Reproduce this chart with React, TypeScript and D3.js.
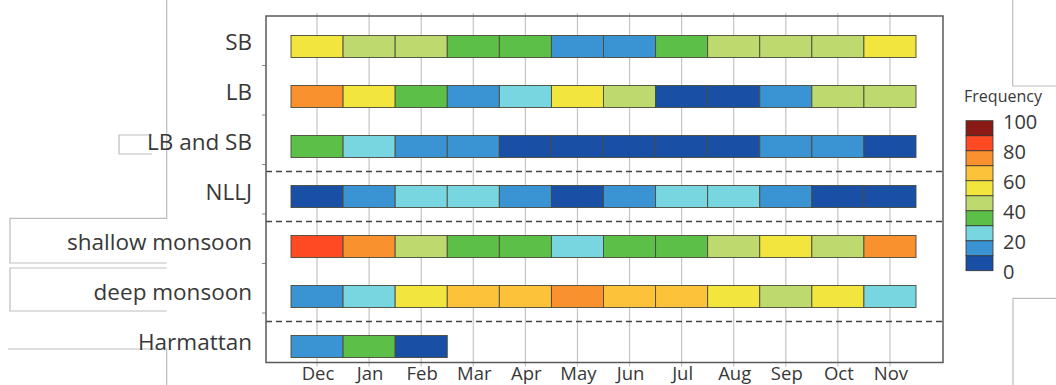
import React from "react";
import * as d3 from "d3";

// Months shown on the horizontal axis (Dec → Nov)
const months = ["Dec", "Jan", "Feb", "Mar", "Apr", "May", "Jun", "Jul", "Aug", "Sep", "Oct", "Nov"];

// Phenomena, one row each
const phenomena = ["SB", "LB", "LB and SB", "NLLJ", "shallow monsoon", "deep monsoon", "Harmattan"];

// Monthly frequency (%) of each phenomenon
const sbFreq = [55, 45, 45, 35, 35, 15, 15, 35, 45, 45, 45, 55];
const lbFreq = [75, 55, 35, 15, 25, 55, 45, 5, 5, 15, 45, 45];
const lbAndSbFreq = [35, 25, 15, 15, 5, 5, 5, 5, 5, 15, 15, 5];
const nlljFreq = [5, 15, 25, 25, 15, 5, 15, 25, 25, 15, 5, 5];
const shallowMonsoonFreq = [85, 75, 45, 35, 35, 25, 35, 35, 45, 55, 45, 75];
const deepMonsoonFreq = [15, 25, 55, 65, 65, 75, 65, 65, 55, 45, 55, 25];
const harmattanFreq = [15, 35, 5];

const rowValues = [sbFreq, lbFreq, lbAndSbFreq, nlljFreq, shallowMonsoonFreq, deepMonsoonFreq, harmattanFreq];

// Rows after which a dashed separator is drawn
const separatorsAfter = ["LB and SB", "NLLJ", "deep monsoon"];

// Colour-bar ticks
const legendTicks = [0, 20, 40, 60, 80, 100];

// Ten classes of 10 % each, low → high
const palette = [
  "#1a4fa6",
  "#3a93d2",
  "#78d6e0",
  "#5cbf48",
  "#bed96e",
  "#f2e53d",
  "#fbc23a",
  "#fa912f",
  "#ff4a24",
  "#8a1a15",
];

const W = 1056;
const H = 385;

const frame = { left: 266, right: 943, top: 16, bottom: 362.5 };

const x = d3.scaleBand<string>().domain(months).range([291, 916]).padding(0);
const yBar = d3.scalePoint<string>().domain(phenomena).range([46.5, 346.5]);
const yRow = d3.scaleBand<string>().domain(phenomena).range([frame.top, frame.bottom]);
const color = d3.scaleQuantize<string>().domain([0, 100]).range(palette);

const legendX = 966;
const legendW = 27;
const yLegend = d3.scaleLinear().domain([0, 100]).range([270.7, 120.7]);

const barH = 22;
const font = "'Open Sans', 'DejaVu Sans', sans-serif";
const textColor = "#383838";

export default function App() {
  const legendBins = d3.range(0, 100, 10);
  const rowTicks = phenomena.slice(1).map((p) => yRow(p) as number);

  return (
    <svg
      width={W}
      height={H}
      viewBox={`0 0 ${W} ${H}`}
      style={{ position: "absolute", left: 0, top: 0, background: "#fff" }}
      fontFamily={font}
    >
      {/* neighbouring panel outlines */}
      <g fill="none" stroke="#bdbdbd" strokeWidth={1.2}>
        <path d="M166.7,0 V218.3 H10 V263 H166.7" />
        <path d="M166.7,268 H10 V311 H166.7" />
        <path d="M8,349 H166.7 V385" />
        <path d="M152,135 H119 V154 H152" />
        <path d="M1012.7,0 V86 H1056" />
        <path d="M1056,298.3 H1013 V385" />
      </g>

      {/* vertical month grid */}
      <g stroke="#c4c4c4" strokeWidth={1.2}>
        {months.map((m) => {
          const cx = (x(m) as number) + x.bandwidth() / 2;
          return <line key={m} x1={cx} x2={cx} y1={frame.top - 3} y2={frame.bottom + 4} />;
        })}
      </g>

      {/* row ticks on the left axis */}
      <g stroke="#888" strokeWidth={1}>
        {rowTicks.map((t, i) => (
          <line key={i} x1={frame.left - 4} x2={frame.left} y1={t} y2={t} />
        ))}
      </g>

      {/* dashed separators between groups */}
      <g stroke="#444" strokeWidth={1.4} strokeDasharray="6 4">
        {separatorsAfter.map((p) => {
          const i = phenomena.indexOf(p);
          const yy = ((yBar(phenomena[i]) as number) + (yBar(phenomena[i + 1]) as number)) / 2;
          return <line key={p} x1={frame.left} x2={frame.right} y1={yy} y2={yy} />;
        })}
      </g>

      {/* frequency bars */}
      <g stroke="#4a4a3a" strokeWidth={0.9}>
        {phenomena.map((p, r) =>
          rowValues[r].map((v, c) => (
            <rect
              key={`${p}-${c}`}
              x={x(months[c]) as number}
              y={(yBar(p) as number) - barH / 2}
              width={x.bandwidth()}
              height={barH}
              fill={color(v)}
            />
          ))
        )}
      </g>

      {/* plot frame */}
      <rect
        x={frame.left}
        y={frame.top}
        width={frame.right - frame.left}
        height={frame.bottom - frame.top}
        fill="none"
        stroke="#5a5a5a"
        strokeWidth={1.5}
      />

      {/* row labels */}
      <g fontSize={22.5} fill={textColor} textAnchor="end">
        {phenomena.map((p) => (
          <text key={p} x={252} y={(yBar(p) as number) - 2.5} dominantBaseline="middle">
            {p}
          </text>
        ))}
      </g>

      {/* month labels */}
      <g fontSize={18.5} fill={textColor} textAnchor="middle">
        {months.map((m) => (
          <text key={m} x={(x(m) as number) + x.bandwidth() / 2 + 1} y={380}>
            {m}
          </text>
        ))}
      </g>

      {/* colour bar */}
      <text x={1003} y={98} fontSize={16} fill={textColor} textAnchor="middle" dominantBaseline="middle">
        Frequency
      </text>
      <g stroke="#333" strokeWidth={0.8}>
        {legendBins.map((b) => (
          <rect
            key={b}
            x={legendX}
            y={yLegend(b + 10)}
            width={legendW}
            height={yLegend(b) - yLegend(b + 10)}
            fill={color(b + 5)}
          />
        ))}
      </g>
      <g fontSize={20} fill={textColor}>
        {legendTicks.map((t) => (
          <text key={t} x={1003} y={yLegend(t) + 2.5} dominantBaseline="middle">
            {t}
          </text>
        ))}
      </g>
    </svg>
  );
}
